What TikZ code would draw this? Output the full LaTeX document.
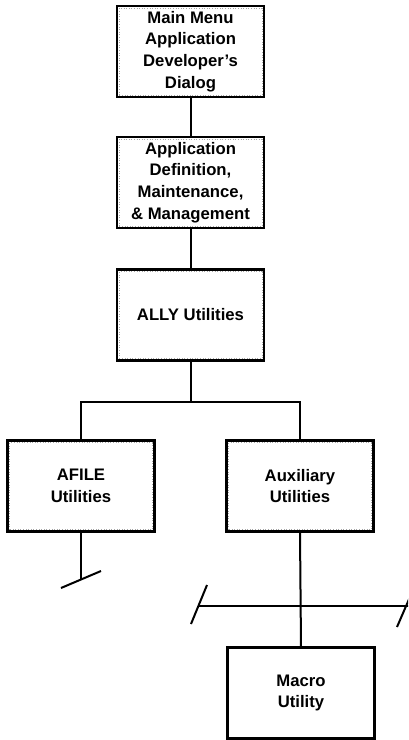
\documentclass[tikz,border=0pt]{standalone}
\usepackage{fontspec}
\setmainfont{Liberation Sans}
\begin{document}
\begin{tikzpicture}[x=1pt,y=-1pt,
  box/.style={draw=black,line width=2.6pt,minimum width=147pt,minimum height=91pt,
    align=center,inner sep=0pt,font=\fontsize{16.7}{21.7}\selectfont\bfseries},
  inner/.style={draw=gray!70,line width=0.6pt,dotted},
  conn/.style={draw=black,line width=2pt}]
\useasboundingbox (0,0) rectangle (408,740);
\clip (0,0) rectangle (408,740);
% boxes
\node[box] (b1) at (190.5,51.5) {Main Menu\\Application\\Developer's\\Dialog};
\node[box] (b2) at (190.5,182.5) {Application\\Definition,\\Maintenance,\\\& Management};
\node[box] (b3) at (190.5,315) {ALLY Utilities};
\node[box] (b4) at (81,486) {AFILE\\Utilities};
\node[box] (b5) at (300,486) {Auxiliary\\Utilities};
\node[box] (b6) at (301,693) {Macro\\Utility};
% faint inner dotted frames
\foreach \n in {b1,b2,b3,b4,b5}{
  \draw[inner] ([shift={(3.5pt,3.5pt)}]\n.south west) rectangle ([shift={(-3.5pt,-3.5pt)}]\n.north east);
}
% connectors
\coordinate (j) at (190.5,402);
\draw[conn] (b1.south) -- (b2.north);
\draw[conn] (b2.south) -- (b3.north);
\draw[conn] (b3.south) -- (j);
\draw[conn] (j) -| (b4.north);
\draw[conn] (j) -| (b5.north);
% AFILE stub with tick
\coordinate (s4) at (81,579.5);
\coordinate (t4a) at (61,588);
\coordinate (t4b) at (101,571);
\draw[conn] (b4.south) -- (s4);
\draw[conn] (t4a) -- (t4b);
% Auxiliary to Macro with crossing bar
\coordinate (hl) at (199,606);
\coordinate (hr) at (410,606);
\draw[conn] (b5.south) -- (b6.north);
\draw[conn] (hl) -- (hr);
\coordinate (tla) at (191,624);
\coordinate (tlb) at (207,585);
\coordinate (tra) at (397,627);
\coordinate (trb) at (413,590);
\draw[conn] (tla) -- (tlb);
\draw[conn] (tra) -- (trb);
\end{tikzpicture}
\end{document}
